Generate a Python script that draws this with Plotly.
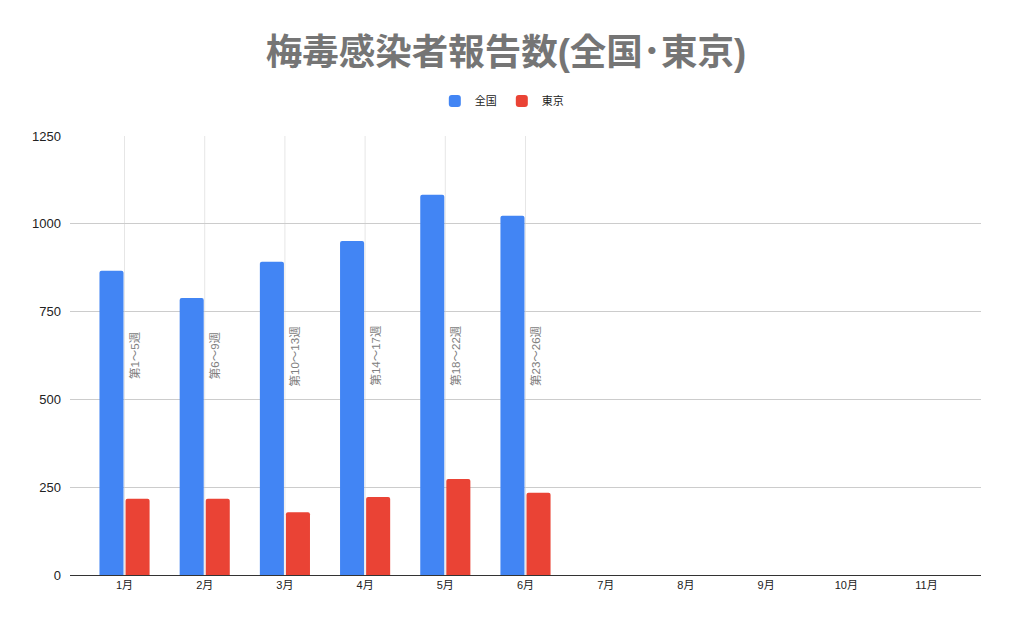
import plotly.graph_objects as go

months = ["1月", "2月", "3月", "4月", "5月", "6月", "7月", "8月", "9月", "10月", "11月"]
zenkoku = [866, 789, 892, 951, 1083, 1023, None, None, None, None, None]
tokyo = [217, 217, 179, 222, 273, 234, None, None, None, None, None]
week_labels = ["第1～5週", "第6～9週", "第10～13週", "第14～17週", "第18～22週", "第23～26週"]
label_y = 625

FONT = "Liberation Sans, Arial, Noto Sans CJK JP, sans-serif"

fig = go.Figure()
fig.add_trace(go.Bar(x=months, y=zenkoku, name="全国", marker_color="#4285F4",
                     marker_line_width=0))
fig.add_trace(go.Bar(x=months, y=tokyo, name="東京", marker_color="#EA4335",
                     marker_line_width=0))

for m, lab in zip(months, week_labels):
    fig.add_shape(type="line", xref="x", yref="paper", x0=m, x1=m, y0=0, y1=1,
                  line=dict(color="#e6e6e6", width=1), layer="below")
    fig.add_annotation(x=m, y=label_y, xref="x", yref="y", text=lab, textangle=-90,
                       showarrow=False, xshift=10,
                       font=dict(size=11.5, color="#808080", family=FONT))

fig.update_layout(
    width=1005, height=619,
    paper_bgcolor="white", plot_bgcolor="white",
    margin=dict(l=62, r=32, t=128, b=52),
    title=dict(text="<b>梅毒感染者報告数(全国･東京)</b>", x=0.4955, xanchor="center",
               y=0.929, yanchor="middle",
               font=dict(size=36.5, color="#757575", family=FONT)),
    legend=dict(orientation="h", x=0.474, xanchor="center", y=1.08, yanchor="middle",
                font=dict(size=11, color="#222222", family=FONT),
                itemwidth=30, traceorder="normal"),
    barmode="group", bargap=0.35, bargroupgap=0.077,
    barcornerradius=2,
    font=dict(family=FONT, color="#222222"),
)
fig.update_xaxes(type="category", range=[-0.68, 10.68], showgrid=False,
                 showline=True, linecolor="#333333", linewidth=1,
                 ticks="", tickfont=dict(size=11, color="#222222"))
fig.update_yaxes(range=[0, 1250], dtick=250, showgrid=True, gridcolor="#cccccc",
                 gridwidth=1, zeroline=False, showline=False, ticks="",
                 tickfont=dict(size=13, color="#222222"), ticklabelstandoff=8)

fig.write_html("out.html")
